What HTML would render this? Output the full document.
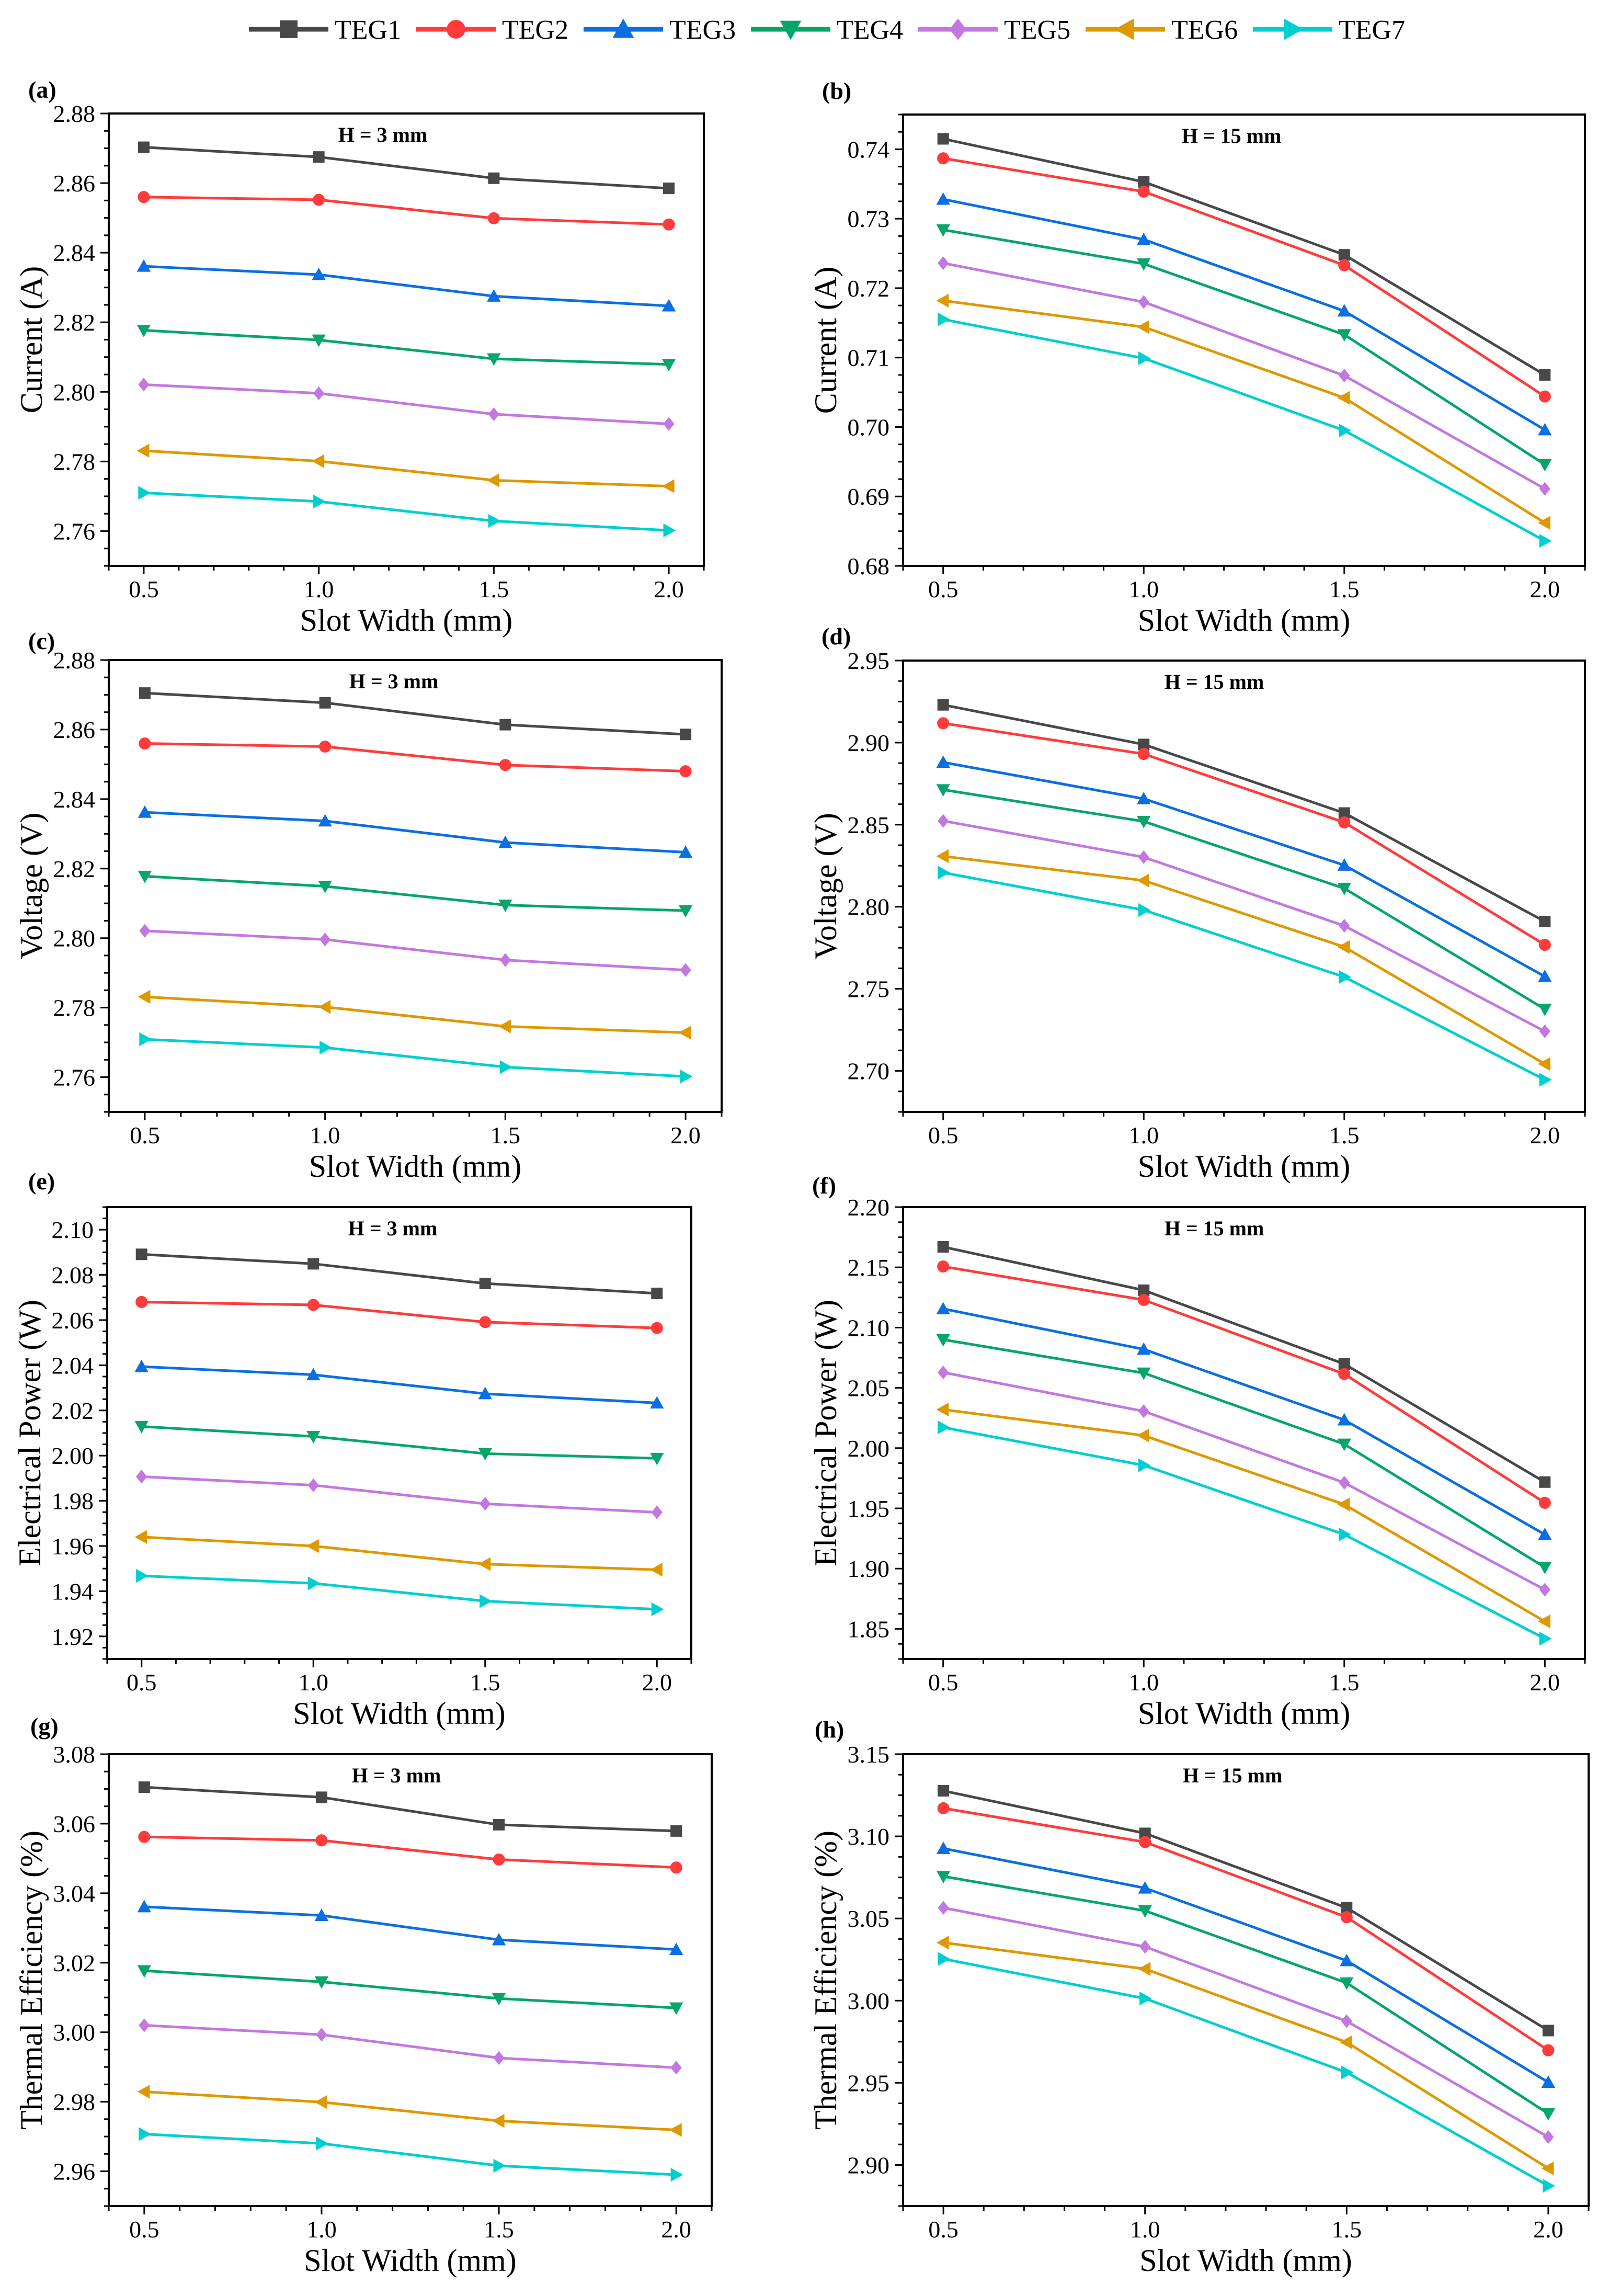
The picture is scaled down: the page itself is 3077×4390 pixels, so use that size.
<!DOCTYPE html>
<html><head><meta charset="utf-8"><style>
html,body{margin:0;padding:0;background:#fff}
svg{display:block}
</style></head><body>
<svg id="fig" xmlns="http://www.w3.org/2000/svg" width="3077" height="4390" viewBox="0 0 3077 4390" font-family="'Liberation Serif', serif"></svg>
<script>
const xCategories = [0.5, 1.0, 1.5, 2.0];
const seriesNames = ['TEG1','TEG2','TEG3','TEG4','TEG5','TEG6','TEG7'];
const currentH3 = [[2.8703,2.8675,2.8614,2.8585],[2.856,2.8552,2.8499,2.8481],[2.8361,2.8337,2.8275,2.8247],[2.8177,2.8149,2.8095,2.8079],[2.8021,2.7996,2.7936,2.7908],[2.7831,2.7801,2.7746,2.7729],[2.771,2.7685,2.7629,2.7602]];
const currentH15 = [[0.7415,0.7353,0.7248,0.7075],[0.7387,0.7339,0.7233,0.7044],[0.7328,0.7270,0.7167,0.6996],[0.7284,0.7235,0.7133,0.6946],[0.7236,0.7180,0.7074,0.6911],[0.7182,0.7144,0.7042,0.6862],[0.7155,0.7099,0.6995,0.6836]];
const voltageH3 = [[2.8705,2.8677,2.8614,2.8586],[2.856,2.8551,2.8498,2.848],[2.8362,2.8337,2.8275,2.8247],[2.8178,2.8149,2.8095,2.8079],[2.8021,2.7996,2.7937,2.7908],[2.7831,2.7802,2.7746,2.7728],[2.7709,2.7685,2.7629,2.7602]];
const voltageH15 = [[2.923,2.8989,2.8571,2.791],[2.9118,2.8931,2.8514,2.7768],[2.888,2.8658,2.8253,2.7575],[2.8713,2.852,2.8112,2.7376],[2.8523,2.8302,2.7884,2.7241],[2.8308,2.816,2.7755,2.7042],[2.8208,2.798,2.7572,2.6946]];
const powerH3 = [[2.0891,2.0849,2.0762,2.0718],[2.068,2.0667,2.0591,2.0565],[2.0394,2.0358,2.0274,2.0233],[2.0129,2.0085,2.0009,1.9988],[1.9907,1.9869,1.9787,1.9749],[1.964,1.96,1.952,1.9495],[1.9468,1.9435,1.9356,1.932]];
const powerH15 = [[2.167,2.131,2.0698,1.9718],[2.1507,2.123,2.0615,1.9546],[2.1156,2.082,2.0234,1.9283],[2.09,2.0623,2.0033,1.9011],[2.0628,2.0306,1.9713,1.8825],[2.032,2.0105,1.9532,1.8562],[2.0172,1.9857,1.9283,1.8419]];
const effH3 = [[3.0705,3.0676,3.0597,3.0579],[3.0562,3.0552,3.0497,3.0474],[3.0361,3.0336,3.0266,3.0238],[3.0177,3.0145,3.0097,3.007],[3.002,2.9993,2.9926,2.9898],[2.9829,2.9799,2.9745,2.9719],[2.9707,2.968,2.9616,2.959]];
const effH15 = [[3.1277,3.1018,3.0565,2.9818],[3.1171,3.0965,3.0508,2.9698],[3.0926,3.0685,3.0243,2.9503],[3.0756,3.0547,3.0108,2.9312],[3.0565,3.0328,2.9875,2.917],[3.0353,3.0193,2.9747,2.8979],[3.0254,3.0013,2.9563,2.8873]];
const xTickLabels = ['0.5','1.0','1.5','2.0'];

const colors = ['#484848','#ff3b3b','#0a6fe0','#06a66b','#c278e0','#de9800','#00cfcf'];
const shapes = ['square','circle','up','down','diamond','left','right'];
const NS = 'http://www.w3.org/2000/svg';
const svg = document.getElementById('fig');
function el(tag, attrs, parent){ const e=document.createElementNS(NS,tag); for(const k in attrs) e.setAttribute(k,attrs[k]); (parent||svg).appendChild(e); return e; }
function marker(g, shape, cx, cy, s, color){
  let e;
  const h=s/2;
  if(shape==='square') e=el('rect',{x:cx-h,y:cy-h,width:s,height:s,fill:color},g);
  else if(shape==='circle') e=el('circle',{cx:cx,cy:cy,r:h*1.05,fill:color},g);
  else {
    let p;
    const k=h*1.2;
    if(shape==='up') p=[[cx,cy-k],[cx+k,cy+k*0.8],[cx-k,cy+k*0.8]];
    if(shape==='down') p=[[cx,cy+k],[cx+k,cy-k*0.8],[cx-k,cy-k*0.8]];
    if(shape==='left') p=[[cx-k,cy],[cx+k*0.8,cy-k],[cx+k*0.8,cy+k]];
    if(shape==='right') p=[[cx+k,cy],[cx-k*0.8,cy-k],[cx-k*0.8,cy+k]];
    if(shape==='diamond') p=[[cx,cy-k],[cx+k*0.8,cy],[cx,cy+k],[cx-k*0.8,cy]];
    e=el('polygon',{points:p.map(q=>q.join(',')).join(' '),fill:color},g);
  }
  return e;
}

// legend
const legend = el('g',{});


seriesNames.forEach((n,i)=>{
  const x0 = 476 + i*320;
  const g = el('g',{},legend);
  
  
  el('line',{x1:x0,y1:56,x2:x0+152,y2:56,stroke:colors[i],'stroke-width':9},g);
  marker(g, shapes[i], x0+76, 56, 34, colors[i]);
  const t = el('text',{x:x0+164,y:74,'font-size':52,fill:'#000'},g);
  t.textContent = n;
});

const panels = [
 {id:'a', data:currentH3, L:208,T:217,R:1346,B:1082, y0:2.75,y1:2.88, t0:2.76,ts:0.02, title:'Current (A)', h:'H = 3 mm', hx:732, lab:[54,187]},
 {id:'b', data:currentH15, L:1727,T:219,R:3031,B:1082, y0:0.68,y1:0.745, t0:0.68,ts:0.01, title:'Current (A)', h:'H = 15 mm', hx:2355, lab:[1572,189]},
 {id:'c', data:voltageH3, L:208,T:1262,R:1380,B:2126, y0:2.75,y1:2.88, t0:2.76,ts:0.02, title:'Voltage (V)', h:'H = 3 mm', hx:753, lab:[54,1241]},
 {id:'d', data:voltageH15, L:1727,T:1263,R:3031,B:2126, y0:2.675,y1:2.95, t0:2.70,ts:0.05, title:'Voltage (V)', h:'H = 15 mm', hx:2322, lab:[1571,1232]},
 {id:'e', data:powerH3, L:205,T:2308,R:1322,B:3172, y0:1.91,y1:2.11, t0:1.92,ts:0.02, title:'Electrical Power (W)', h:'H = 3 mm', hx:751, lab:[54,2274]},
 {id:'f', data:powerH15, L:1727,T:2308,R:3031,B:3172, y0:1.825,y1:2.20, t0:1.85,ts:0.05, title:'Electrical Power (W)', h:'H = 15 mm', hx:2322, lab:[1553,2282]},
 {id:'g', data:effH3, L:208,T:3354,R:1361,B:4218, y0:2.95,y1:3.08, t0:2.96,ts:0.02, title:'Thermal Efficiency (%)', h:'H = 3 mm', hx:758, lab:[58,3316]},
 {id:'h', data:effH15, L:1727,T:3354,R:3038,B:4218, y0:2.875,y1:3.15, t0:2.90,ts:0.05, title:'Thermal Efficiency (%)', h:'H = 15 mm', hx:2357, lab:[1558,3322]},
];

panels.forEach(P=>{
  const g = el('g',{});
  
  
  const xs = v => P.L + (v-0.4)/(2.1-0.4)*(P.R-P.L);
  const ys = v => P.B - (v-P.y0)/(P.y1-P.y0)*(P.B-P.T);
  const lb = el('text',{x:P.lab[0],y:P.lab[1],'font-size':46,'font-weight':'bold'},g);
  
  
  lb.textContent='('+P.id+')';
  const ax = el('g',{stroke:'#000','stroke-width':3},g);
  
  
  for(let i=0;i<=17;i++){
    const v = 0.4 + i*0.1;
    const x = xs(v);
    const major = Math.abs((v*10)%5)<1e-6 || Math.abs((v*10)%5-5)<1e-6;
    el('line',{x1:x,y1:P.B,x2:x,y2:P.B+(major?16:9)},ax);
  }
  xCategories.forEach((v,i)=>{
    const t=el('text',{x:xs(v),y:P.B+60,'font-size':46,'text-anchor':'middle',fill:'#000',stroke:'none'},g);
    
    
    t.textContent=xTickLabels[i];
  });
  const minor = P.ts/4;
  const nMinor = Math.round((P.y1-P.y0)/minor);
  for(let i=0;i<=nMinor;i++){
    const v = P.y0 + i*minor;
    const rel = (v-P.t0)/P.ts;
    const major = Math.abs(rel-Math.round(rel))<1e-6 && rel>-1e-6;
    el('line',{x1:P.L,y1:ys(v),x2:P.L-(major?16:9),y2:ys(v)},ax);
    if(major){
      const t=el('text',{x:P.L-26,y:ys(v)+16,'font-size':46,'text-anchor':'end',fill:'#000',stroke:'none'},g);
      
      
      t.textContent=v.toFixed(2);
    }
  }
  const fr = el('rect',{x:P.L,y:P.T,width:P.R-P.L,height:P.B-P.T,fill:'none',stroke:'#000','stroke-width':4},g);
  
  
  const xt = el('text',{x:(P.L+P.R)/2,y:P.B+124,'font-size':60,'text-anchor':'middle'},g);
  
  
  xt.textContent='Slot Width (mm)';
  const yc = (P.T+P.B)/2, ycx = P.L-128;
  const yt = el('text',{x:ycx,y:yc,'font-size':60,'text-anchor':'middle',transform:'rotate(-90 '+ycx+' '+yc+')'},g);
  
  
  yt.textContent=P.title;
  const ht = el('text',{x:P.hx,y:P.T+54,'font-size':40,'font-weight':'bold','text-anchor':'middle'},g);
  
  
  ht.textContent=P.h;
  P.data.forEach((vals,si)=>{
    const sg = el('g',{},g);
    
    
    const pts = vals.map((v,i)=>xs(xCategories[i])+','+ys(v)).join(' ');
    el('polyline',{points:pts,fill:'none',stroke:colors[si],'stroke-width':5,'stroke-linejoin':'round'},sg);
    vals.forEach((v,i)=>{
      const m = marker(sg, shapes[si], xs(xCategories[i]), ys(v), 22, colors[si]);
      
      
    });
  });
});
</script>
</body></html>
